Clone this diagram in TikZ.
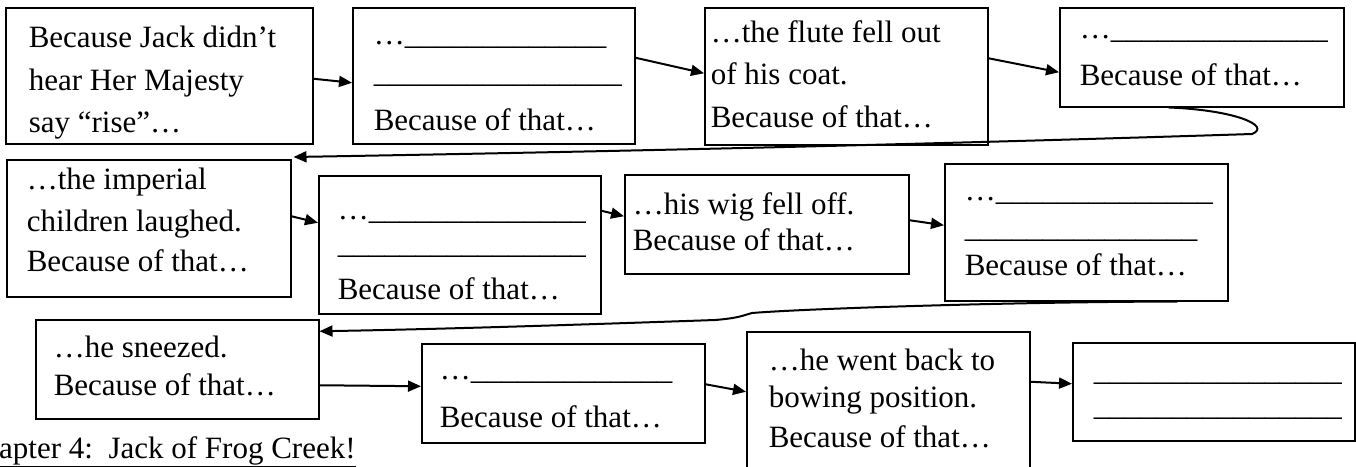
\documentclass[tikz,border=0pt]{standalone}
\usepackage{fontspec}
\setmainfont{Liberation Serif}
\usetikzlibrary{arrows.meta}
\makeatletter
\newcommand\blankline[1]{\@tempcnta=#1\relax\loop\ifnum\@tempcnta>0 \_\advance\@tempcnta -1\repeat}
\makeatother
% #1 text width, #2 box height, #3 first baseline from top, #4 lines
\newcommand\btext[4]{\begin{minipage}[c][#2pt][t]{#1pt}\baselineskip=0pt\lineskiplimit=-1000pt\lineskip=0pt\parskip=0pt\raggedright\rule{0pt}{#3pt}#4\end{minipage}}
\begin{document}
\begin{tikzpicture}[x=1pt,y=-1pt,
  stepbox/.style={draw, line width=1.5pt, anchor=north west, inner ysep=0pt,
    font=\fontsize{31}{43}\selectfont},
  link/.style={line width=2pt, -{Triangle[length=13pt,width=11pt]}}]
\useasboundingbox (0,0) rectangle (1356,466);
% row 1
\node[stepbox, inner xsep=23pt] (b1) at (5,7)
  {\btext{261}{136}{40}{Because Jack didn’t\\[43pt]hear Her Majesty\\[42pt]say “rise”…}};
\node[stepbox, inner xsep=21pt] (b2) at (352,7)
  {\btext{240}{136}{37}{…\blankline{13}\\[38pt]\blankline{16}\\[48pt]Because of that…}};
\node[stepbox, inner xsep=6pt] (b3) at (704,7)
  {\btext{271}{137}{35}{…the flute fell out\\[42pt]of his coat.\\[43pt]Because of that…}};
\node[stepbox, inner xsep=20pt] (b4) at (1059,7)
  {\btext{244}{99}{31}{…\blankline{14}\\[47pt]Because of that…}};
% row 2
\node[stepbox, inner xsep=20pt] (b5) at (6,159)
  {\btext{244}{137}{30}{…the imperial\\[42pt]children laughed.\\[40pt]Because of that…}};
\node[stepbox, inner xsep=19pt] (b6) at (318,175)
  {\btext{244}{138}{44}{…\blankline{14}\\[34pt]\blankline{16}\\[46pt]Because of that…}};
\node[stepbox, inner xsep=8pt] (b7) at (624,174)
  {\btext{268}{99}{40}{…his wig fell off.\\[36pt]Because of that…}};
\node[stepbox, inner xsep=20pt] (b8) at (944,163)
  {\btext{243}{137}{37}{…\blankline{14}\\[37pt]\blankline{15}\\[38pt]Because of that…}};
% row 3
\node[stepbox, inner xsep=18pt] (b9) at (35,319)
  {\btext{247}{99}{38}{…he sneezed.\\[38pt]Because of that…}};
\node[stepbox, inner xsep=18pt] (b10) at (421,343)
  {\btext{247}{99}{36}{…\blankline{13}\\[48pt]Because of that…}};
\node[stepbox, inner xsep=22pt] (b11) at (746,331)
  {\btext{239}{140}{39}{…he went back to\\[37pt]bowing position.\\[40pt]Because of that…}};
\node[stepbox, inner xsep=21pt] (b12) at (1072,342)
  {\btext{240}{98}{38}{\blankline{16}\\[35pt]\blankline{16}}};
% title
\node[anchor=base west, inner sep=0pt, font=\fontsize{31}{36}\selectfont] (title) at (-1,458)
  {\underline{apter 4:\ \ Jack of Frog Creek!}};
% connectors
\draw[link] ([yshift=-3pt]b1.east) -- ([yshift=-7pt]b2.west);
\draw[link] ([yshift=18pt]b2.east) -- ([yshift=3pt]b3.west);
\draw[link] ([yshift=18pt]b3.east) -- ([yshift=-15pt]b4.west);
\draw[link] ([xshift=-33pt]b4.south) .. controls (1235,110) and (1272,126) .. (1252,134)
  .. controls (1000,142) and (700,150) .. ([xshift=2pt,yshift=2pt]b5.north east);
\draw[link] ([yshift=12pt]b5.east) -- ([yshift=22pt]b6.west);
\draw[link] ([yshift=34pt]b6.east) -- ([yshift=8pt]b7.west);
\draw[link] ([yshift=4pt]b7.east) -- ([yshift=7pt]b8.west);
\draw[link] ([xshift=91pt]b8.south) .. controls (1000,302) and (800,309) .. (752,313)
  .. controls (744,315) and (740,318) .. (715,320)
  .. controls (600,324) and (450,329) .. ([yshift=38pt]b9.east);
\draw[link] ([yshift=-16pt]b9.east) -- ([yshift=7pt]b10.west);
\draw[link] ([yshift=9pt]b10.east) -- ([yshift=10pt]b11.west);
\draw[link] ([yshift=20pt]b11.east) -- ([yshift=8pt]b12.west);
\end{tikzpicture}
\end{document}
